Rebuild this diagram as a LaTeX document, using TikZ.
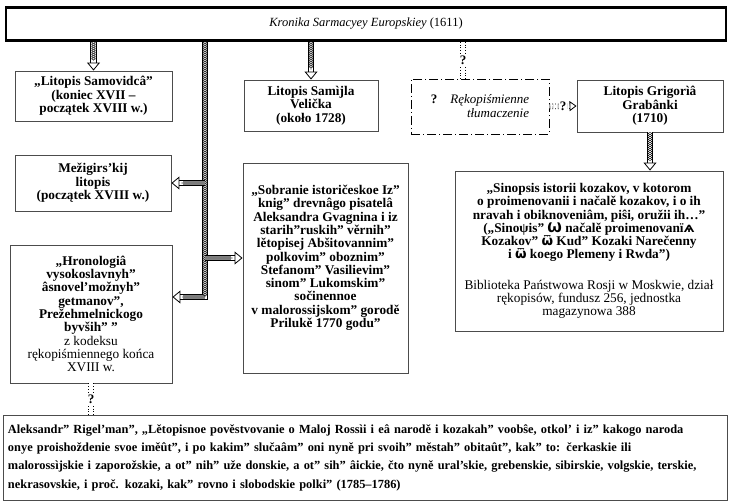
\documentclass[tikz,border=0pt]{standalone}
\usepackage{fontspec}
\setmainfont{Liberation Serif}
\newfontfamily\oldcyr{DejaVu Sans}
\usepackage{tikz}
\usetikzlibrary{arrows.meta}
\usetikzlibrary{decorations.pathmorphing}
\usetikzlibrary{calc}

\tikzset{
  box/.style={draw=black!70, line width=0.9pt, align=center, inner sep=2pt,
              font=\bfseries\fontsize{13.3}{13.3}\selectfont},
  topbox/.style={draw=black, line width=2.6pt, inner sep=0pt,
                 font=\fontsize{12.5}{14}\selectfont},
  dashbox/.style={draw=black, line width=0.9pt, align=right, inner sep=2pt,
                  dash pattern=on 9pt off 3pt on 1pt off 3pt,
                  font=\itshape\fontsize{13}{14}\selectfont},
  pipe/.style={double=white, double distance=4.6pt, line width=0.8pt,
               -{Triangle[open, length=8pt, width=13pt, line width=0.8pt]}},
  hatch/.style={decorate, decoration={zigzag, amplitude=2.1pt, segment length=4pt},
                line width=0.35pt},
  query/.style={dotted, double=white, double distance=4pt, line width=0.8pt},
  qmark/.style={fill=white, inner sep=0.5pt, font=\bfseries\fontsize{13}{13}\selectfont}
}

% hollow arrow with cross hatching inside
\newcommand{\pipeline}[2]{%
  \draw[pipe] (#1) -- (#2);
  \draw[hatch] (#1) -- ($(#2)!10pt!(#1)$);
  \draw[hatch, decoration={mirror}] (#1) -- ($(#2)!10pt!(#1)$);
}

\begin{document}
\begin{tikzpicture}[x=1pt, y=-1pt]
  \useasboundingbox (0,0) rectangle (733,502);

  \node[topbox, minimum width=720, minimum height=33] (kronika) at (366,24)
    {\textit{Kronika Sarmacyey Europskiey} (1611)};

  \node[box, minimum width=157, minimum height=50] (samovidec) at (93.5,96)
    {„Litopis Samovidcâ”\\ (koniec XVII –\\ początek XVIII w.)};
  \node[box, minimum width=156, minimum height=56] (mezhyhir) at (93,183)
    {Mežigirs’kij\\ litopis\\ (początek XVIII w.)};
  \node[box, minimum width=162, minimum height=138] (hronologia) at (91,314)
    {„Hronologiâ\\ vysokoslavnyh”\\ âsnovel’možnyh”\\ getmanov”,\\ Prežehmelnickogo\\
     byvših” ”\\ \mdseries z kodeksu\\ \mdseries rękopiśmiennego końca\\ \mdseries XVIII w.};

  \node[box, minimum width=134, minimum height=51] (velichko) at (311,105.5)
    {Litopis Samìjla\\ Velička\\ (około 1728)};
  \node[box, minimum width=165, minimum height=210] (sobranie) at (325.5,268)
    {„Sobranie istoričeskoe Iz”\\ knig” drevnâgo pisatelâ\\ Aleksandra Gvagnina i iz\\
     starih”ruskih” věrnih”\\ lětopisej Abšitovannim”\\ polkovim” oboznim”\\
     Stefanom” Vasilievim”\\ sinom” Lukomskim”\\ sočinennoe\\
     v malorossijskom” gorodě\\ Prilukě 1770 godu”\\[10pt] \mbox{}};

  \node[dashbox, minimum width=138, minimum height=55] (tlumaczenie) at (480,106.5)
    {\textbf{\upshape ?}\quad Rękopiśmienne\\ tłumaczenie};
  \node[box, minimum width=146, minimum height=52] (hrabianka) at (650,106)
    {Litopis Grigorìâ\\ Grabânki\\ (1710)};
  \node[box, minimum width=268, minimum height=160] (sinopsis) at (589,251)
    {„Sinopsis istorii kozakov, v kotorom\\ o proimenovanii i načalě kozakov, i o ih\\
     nravah i obiknoveniâm, piŝi, oružii ih…”\\
     („Sinoψis” {\oldcyr Ѡ} načalě proimenovanï{\oldcyr ѧ}\\
     Kozakov” {\oldcyr ѿ} Kud” Kozaki Narečenny\\ i {\oldcyr ѿ} koego Plemeny i Rwda”)\\[17pt]
     \mdseries Biblioteka Państwowa Rosji w Moskwie, dział\\ \mdseries rękopisów, fundusz 256, jednostka\\
     \mdseries magazynowa 388};

  \node[box, align=left, minimum width=724, minimum height=85, text width=714,
        font=\bfseries\fontsize{12.4}{18.3}\selectfont] (rigelman) at (365,457.5)
    {Aleksandr” Rigel’man”, „Lětopisnoe pověstvovanie o Maloj Rossìi i eâ narodě i kozakah” voobŝe, otkol’ i iz” kakogo naroda\\
     onye proishoždenie svoe iměût”, i po kakim” slučaâm” oni nyně pri svoih” městah” obitaût”, kak” to: čerkaskie ili\\
     malorossìjskie i zaporožskie, a ot” nih” uže donskie, a ot” sih” âickie, čto nyně ural’skie, grebenskie, sibirskie, volgskie, terskie,\\
     nekrasovskie, i proč. kozaki, kak” rovno i slobodskie polki” (1785–1786)};

  % trunk on the left
  \coordinate (trunkend) at (205,297);
  \coordinate (branch) at (205,258);
  \draw[pipe] (kronika.south -| trunkend) -- (trunkend) -- (hronologia.east |- trunkend);
  \draw[hatch] (kronika.south -| trunkend) -- (trunkend);
  \draw[hatch, decoration={mirror}] (kronika.south -| trunkend) -- (trunkend);
  \draw[hatch] (trunkend) -- ($(hronologia.east |- trunkend)!10pt!(trunkend)$);
  \draw[hatch, decoration={mirror}] (trunkend) -- ($(hronologia.east |- trunkend)!10pt!(trunkend)$);
  \pipeline{mezhyhir.east -| trunkend}{mezhyhir.east}
  \pipeline{branch}{sobranie.west |- branch}

  \pipeline{kronika.south -| samovidec.north}{samovidec.north}
  \pipeline{kronika.south -| velichko.north}{velichko.north}
  \pipeline{hrabianka.south}{hrabianka.south |- sinopsis.north}

  % uncertain links
  \draw[query] ([xshift=-17pt]tlumaczenie.north |- kronika.south) -- ([xshift=-17pt]tlumaczenie.north)
    node[qmark, midway] {?};
  \draw[query, -{Triangle[open, length=7pt, width=10pt, line width=0.8pt]}] (tlumaczenie.east) -- (hrabianka.west)
    node[qmark, midway] {?};
  \draw[query] (hronologia.south) -- (hronologia.south |- rigelman.north)
    node[qmark, midway] {?};
\end{tikzpicture}
\end{document}
